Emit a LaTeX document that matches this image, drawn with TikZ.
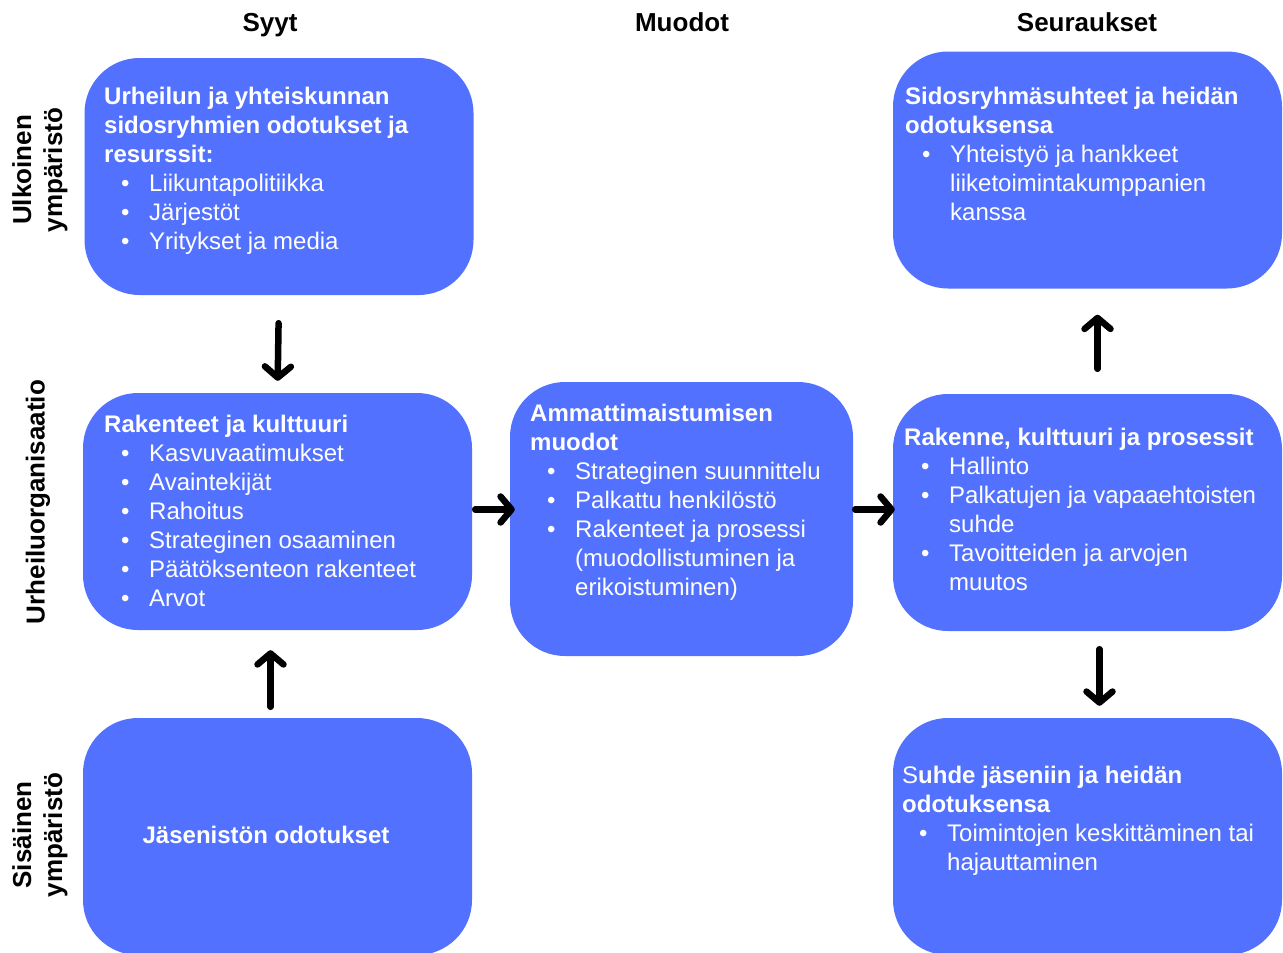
\documentclass[tikz,border=0pt]{standalone}
\usepackage{fontspec}
\setmainfont{Liberation Sans}
\usetikzlibrary{arrows.meta}
\definecolor{boxblue}{RGB}{82,113,255}
\tikzstyle{box}=[rectangle,rounded corners=55pt,fill=boxblue,minimum width=389pt,minimum height=237pt,inner sep=0pt]
\tikzstyle{txt}=[text=white,align=left,anchor=north west,inner sep=0pt,font=\fontsize{24}{29}\selectfont]
\tikzstyle{head}=[font=\fontsize{26}{31}\selectfont\bfseries,inner sep=0pt]
\tikzstyle{side}=[head,rotate=90,align=center]
\tikzstyle{edge}=[draw,line width=6.5pt,line cap=round,-{Straight Barb[length=11pt,width=26pt,round]}]
\newcommand{\bul}{\hspace*{17pt}\makebox[28pt][l]{\textbullet}}
\newcommand{\ind}{\hspace*{45pt}}

\begin{document}
\begin{tikzpicture}[x=1pt,y=-1pt]
	\useasboundingbox (0,0) rectangle (1283,953);

	% Column and row titles
	\foreach \pos/\name/\label in {{(270,31)/syyt/Syyt}, {(682,31)/muodot/Muodot}, {(1087,31)/seur/Seuraukset}}
	\node[head,anchor=base] (\name) at \pos {\label};
	\node[side] (ulk) at (40,170) {Ulkoinen\\ympäristö};
	\node[side] (org) at (38,502) {Urheiluorganisaatio};
	\node[side] (sis) at (40,835) {Sisäinen\\ympäristö};

	% Draw the boxes
	\foreach \pos/\name in {{(279,176.5)/ext}, {(277.5,511.5)/rak}, {(277.5,836.5)/jas},
							{(1087.5,170)/sid}, {(1087.5,512.5)/pro}, {(1087.5,836.5)/suh}}
	\node[box] (\name) at \pos {};
	\node[box,minimum width=343pt,minimum height=274pt] (amm) at (681.5,519) {};

	% Box texts
	\node[txt] (extt) at (104,87) {\textbf{Urheilun ja yhteiskunnan}\\ \textbf{sidosryhmien odotukset ja}\\ \textbf{resurssit:}\\ \bul Liikuntapolitiikka\\ \bul Järjestöt\\ \bul Yritykset ja media};
	\node[txt] (rakt) at (104,415) {\textbf{Rakenteet ja kulttuuri}\\ \bul Kasvuvaatimukset\\ \bul Avaintekijät\\ \bul Rahoitus\\ \bul Strateginen osaaminen\\ \bul Päätöksenteon rakenteet\\ \bul Arvot};
	\node[txt,anchor=center,font=\fontsize{24}{29}\selectfont\bfseries] (jast) at (266,835) {Jäsenistön odotukset};
	\node[txt] (ammt) at (530,404) {\textbf{Ammattimaistumisen}\\ \textbf{muodot}\\ \bul Strateginen suunnittelu\\ \bul Palkattu henkilöstö\\ \bul Rakenteet ja prosessi\\ \ind(muodollistuminen ja\\ \ind erikoistuminen)};
	\node[txt] (sidt) at (905,87) {\textbf{Sidosryhmäsuhteet ja heidän}\\ \textbf{odotuksensa}\\ \bul Yhteistyö ja hankkeet\\ \ind liiketoimintakumppanien\\ \ind kanssa};
	\node[txt] (prot) at (904,428) {\textbf{Rakenne, kulttuuri ja prosessit}\\ \bul Hallinto\\ \bul Palkatujen ja vapaaehtoisten\\ \ind suhde\\ \bul Tavoitteiden ja arvojen\\ \ind muutos};
	\node[txt] (suht) at (902,766) {S\textbf{uhde jäseniin ja heidän}\\ \textbf{odotuksensa}\\ \bul Toimintojen keskittäminen tai\\ \ind hajauttaminen};

	% Arrows between the boxes
	\path[edge,shorten <=28pt,shorten >=12pt] (ext.south) -- (rak.north);
	\path[edge,shorten <=11pt,shorten >=20pt] ([xshift=-7pt]jas.north) -- ([xshift=-7pt]rak.south);
	\path[edge,shorten <=3pt,shorten >=-5pt] ([yshift=2pt]rak.east) -- ([yshift=2pt]rak.east -| amm.west);
	\path[edge,shorten <=2pt,shorten >=-2pt] ([yshift=3pt]pro.west -| amm.east) -- ([yshift=3pt]pro.west);
	\path[edge,shorten <=25pt,shorten >=26pt] ([xshift=10pt]pro.north) -- ([xshift=10pt]sid.south);
	\path[edge,shorten <=18pt,shorten >=12pt] ([xshift=12pt]pro.south) -- ([xshift=12pt]suh.north);
\end{tikzpicture}
\end{document}
